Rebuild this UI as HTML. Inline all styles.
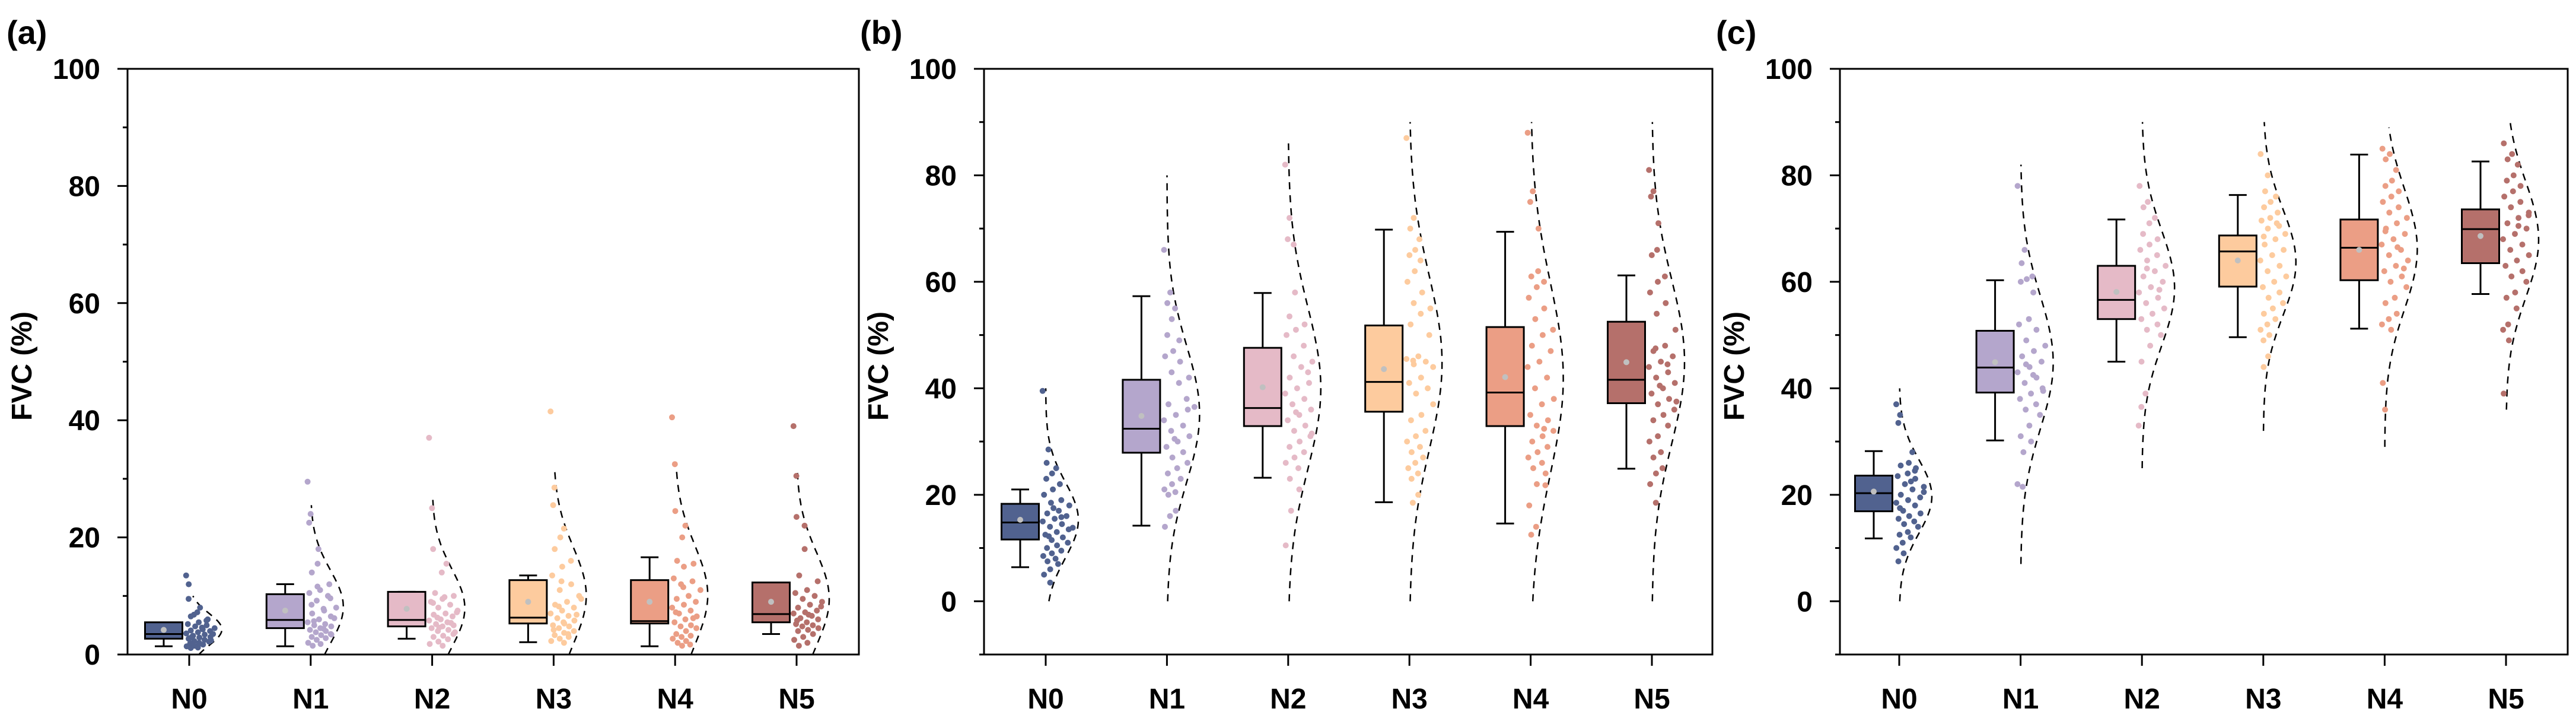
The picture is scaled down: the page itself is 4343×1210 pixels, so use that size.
<!DOCTYPE html>
<html><head><meta charset="utf-8"><style>
html,body{margin:0;padding:0;background:#fff}
svg{display:block}
text{font-family:"Liberation Sans",Arial,sans-serif;font-weight:bold;fill:#000}
</style></head><body>
<svg id="chart" width="4343" height="1210" viewBox="0 0 4343 1210" xmlns="http://www.w3.org/2000/svg"></svg>
<script>
const categories=["N0","N1","N2","N3","N4","N5"];
const colors=["#51628f","#b4a6cc","#e5bac7","#fdcb9e","#eb9e85","#b5706b"];
const yTicksA=[0,20,40,60,80,100];
const yTicksBC=[0,20,40,60,80,100];
// panel a box stats
const aLo=[1.4,1.4,2.7,2.1,1.4,3.5];
const aQ1=[2.7,4.5,4.8,5.3,5.3,5.5];
const aMed=[3.5,5.9,5.9,6.3,5.7,6.9];
const aQ3=[5.5,10.3,10.7,12.7,12.7,12.3];
const aHi=[4.8,12,10.7,13.5,16.6,11.9];
const aMean=[4.2,7.5,7.8,9,9,9];
const aVmin=[0,0,0,0,0,0];
const aVmax=[10,25.5,27,32,32,31];
const aPts=[
[13.5,12,9.5,8,7.2,6.5,6,5.5,5.2,5,4.8,4.5,4.3,4.1,4,3.8,3.6,3.4,3.2,3,2.9,2.7,2.5,2.3,2.2,2,1.9,1.7,1.5,1.4,1.2,1.1,3.5,4.6,2.8,5.8,6.8,2.4,1.8,3.1],
[29.5,24,22.5,18,15.5,14,12,11,10.5,10,9.2,8,7.5,7,6.5,6,5.5,5.2,5,4.8,4.5,4.2,4,3.8,3.5,3.3,3,2.8,2.5,2,1.8,1.5,6.2,7.8,8.5,9.6,11.6,3.4,4.4,5.7],
[37,25,18,15.5,14,10.5,10,9.5,9,8.5,8,7.5,7,6.8,6.5,6,5.8,5.5,5.2,5,4.8,4.5,4.2,4,3.5,3.2,3,2.6,2.2,1.8,1.5,6.3,7.2,9.8,8.8,5.4,4.6,3.8],
[41.5,28.5,25.5,21.5,20,18,16,15,13.5,12,11,10,9,8.5,8,7.5,7,6.6,6.2,5.8,5.5,5,4.8,4.5,4,3.7,3.3,3,2.7,2.3,2,8.2,6.8,5.3,4.2,3.5,12.5,9.5],
[40.5,32.5,24.5,22,20,16,15.5,15,13,12.5,12,11,10,9.5,9,8.5,8,7.5,7,6.5,6,5.5,5,4.8,4.5,4,3.5,3.2,3,2.7,2.3,2,1.7,1.5,7.2,6.2,11.5],
[39,30.5,23.5,22,18,13.5,12.5,11,10.5,10,9.5,9,8.5,8,7.5,7.2,7,6.6,6.2,6,5.5,5.2,5,4.8,4.5,4.2,4,3.5,3,2.5,2,1.5,8.2,6.8,5.8]];
// panel b
const bLo=[6.4,14.2,23.2,18.6,14.6,24.9];
const bQ1=[11.6,27.9,32.9,35.6,32.9,37.2];
const bMed=[14.8,32.4,36.3,41.2,39.2,41.6];
const bQ3=[18.3,41.6,47.6,51.8,51.5,52.5];
const bHi=[21,57.3,57.9,69.8,69.4,61.2];
const bMean=[15.3,34.8,40.2,43.6,42.1,44.9];
const bVmin=[0,0,0,0,0,0];
const bVmax=[40,80,86,90,90,90];
const bPts=[
[39.5,28.5,26,25,24,23,22,21,20,19,18.5,18,17,16.5,16,15.5,15,14.5,14,13.5,13,12.5,12,11.5,11,10.5,10,9.5,9,8.5,8,7.5,7,6,5,3.5,17.5,13.8,15.8,12.2],
[66,58,56,55,53,50,49,47,46,45,43,42,41,37,36,35,34,33,32,31,30,29,28,27,26,25,24,23,22,21,20.5,20,17,16,14,38,30.5,36.5],
[82,72,68,67,58,53.5,52,51,50,48,46,45,44,42,41,40,39,38,37,36,35,34,33,32,31,30,29,28,27,26,25,23,21,17,10.5,43,35.5,31.5],
[87,72,70,68,66,65,64,62,60,58,56,55,54,52,50,46,45.5,45,44.5,44,42,41,40,39,37,35,34,32,31,30,29,28,27,26,25,24,23,20,18.5,45.2],
[88,77,75,70,62,61,60,59,57,55,53,51,50,48,47,45,44,42,40,38,37,35,34,33,32,31,30,29,28,27,26,25,24,22,18,14,12.5,21.8,32.4],
[81,77,76,71,66,65,61,60,58,56,54,51,48,47,46,45,44,43,42,41,40,39,38,37,36,35,34,33,31,30,28,27,25,24,22,18.5,40.5,37.5,44.5,47.5]];
// panel c
const cLo=[11.8,30.2,45,49.6,51.2,57.7];
const cQ1=[16.9,39.2,53,59.1,60.3,63.5];
const cMed=[20.3,43.9,56.6,65.7,66.4,69.9];
const cQ3=[23.6,50.8,63,68.7,71.7,73.6];
const cHi=[28.2,60.3,71.7,76.3,83.9,82.6];
const cMean=[20.6,44.9,58.1,64,66,68.6];
const cVmin=[0,7,25,32,29,36];
const cVmax=[40,82,90,90,89,90];
const cPts=[
[37,35,33.5,28,26,25.5,25,24,23.5,23,22,21.5,21,20,19.5,19,18.5,18,17,16.5,16,15.5,15,14.5,14,13,12.5,12,11,10,9,7.5,20.5,22.5,17.5,24.5],
[78,66,63.5,61,60.5,60,58,53,52,51,49,48,47,46,45,44,43,42,41,40,39,38,37,36,35,33,31,30,28,22,21.5,44.5,39.5,42.5],
[78,75,74,72,71,69,68,67,66,65,64,63,62,61,60,59,58,57,56,55,54,53,52,51,50,48,45,39,36.5,33,58.5,62.5],
[84,80,77,76,75,74,73,72,71.5,71,70,69,68,67,66,65,64,63,62,61,60,59,58,57,56,55,54,53,52,51,50,49,46,44,68.5,70.5],
[85,84,83,81,79,78,77,76,75,74,73,72,71,70,69,68,67,66,65,64,63,62,61,60,59,57,56,54,53,52,51,41,36,66.5,69.5,62.5],
[86,84,83,82,80,79,78,77,76,75,74,73,72,71,70,69,68,67,66,65,64,63,62,61,60,58,57,55,52,51,49,39,72.5,70.5]];

const NS="http://www.w3.org/2000/svg";
const svg=document.getElementById('chart');
function mk(tag,attrs,parent){const e=document.createElementNS(NS,tag);for(const k in attrs)e.setAttribute(k,attrs[k]);(parent||svg).appendChild(e);return e;}

const panels=[
 {id:'a',label:'(a)',lx:11,fx0:215,fx1:1448,t0:319,step:204.8,ymin:0,ymax:100,ticks:yTicksA,lo:aLo,q1:aQ1,med:aMed,q3:aQ3,hi:aHi,mean:aMean,vmin:aVmin,vmax:aVmax,pts:aPts},
 {id:'b',label:'(b)',lx:1450,fx0:1659,fx1:2887,t0:1763,step:204.4,ymin:-10,ymax:100,ticks:yTicksBC,lo:bLo,q1:bQ1,med:bMed,q3:bQ3,hi:bHi,mean:bMean,vmin:bVmin,vmax:bVmax,pts:bPts},
 {id:'c',label:'(c)',lx:2893,fx0:3102,fx1:4329,t0:3202,step:204.6,ymin:-10,ymax:100,ticks:yTicksBC,lo:cLo,q1:cQ1,med:cMed,q3:cQ3,hi:cHi,mean:cMean,vmin:cVmin,vmax:cVmax,pts:cPts}
];
const FY0=116,FY1=1103;

panels.forEach(p=>{
 const g=mk('g',{});
 
 
 const y=v=>FY1-(v-p.ymin)/(p.ymax-p.ymin)*(FY1-FY0);
 const xc=i=>p.t0+i*p.step;
 const lab=mk('text',{x:p.lx,y:74,'font-size':56},g);lab.textContent=p.label;
 
 
 const yt=mk('text',{x:0,y:0,'font-size':48,'text-anchor':'middle',transform:`translate(${p.fx0-162},617) rotate(-90)`},g);
 yt.textContent='FVC (%)';
 
 
 for(let v=Math.ceil(p.ymin/10)*10;v<=p.ymax;v+=10){
  const major=p.ticks.indexOf(v)>=0;
  const t=mk('line',{x1:p.fx0-(major?17:8),x2:p.fx0,y1:y(v),y2:y(v),stroke:'#000','stroke-width':3},g);
  
  
 }
 p.ticks.forEach(v=>{
  const t=mk('text',{x:p.fx0-46,y:y(v)+17,'font-size':48,'text-anchor':'end'},g);t.textContent=v;
  
  
 });
 categories.forEach((c,i)=>{
  const col=colors[i];
  const x=xc(i);
  const tk=mk('line',{x1:x,x2:x,y1:FY1,y2:FY1+19,stroke:'#000','stroke-width':3},g);
  
  
  const tl=mk('text',{x:x,y:1194,'font-size':48,'text-anchor':'middle'},g);tl.textContent=c;
  
  
  const pts=p.pts[i];
  const m=pts.reduce((a,b)=>a+b,0)/pts.length;
  const sd=Math.sqrt(pts.reduce((a,b)=>a+(b-m)*(b-m),0)/pts.length);
  const dens=v=>Math.exp(-(v-m)*(v-m)/(2*sd*sd));
  const W=55;
  let d='';
  const N=80;
  for(let k=0;k<=N;k++){
   const v=p.vmin[i]+(p.vmax[i]-p.vmin[i])*k/N;
   d+=(k?'L':'M')+(x+W*dens(v)).toFixed(1)+','+y(v).toFixed(1);
  }
  const vio=mk('path',{d:d,fill:'none',stroke:'#000','stroke-width':2.5,'stroke-dasharray':'12 10'},g);
  
  
  pts.forEach((v,j)=>{
   const u=(j*0.6180339+0.13)%1;
   const w=W*dens(v)*0.85+6;
   const pt=mk('circle',{cx:(x-6+u*w).toFixed(1),cy:y(v).toFixed(1),r:5,fill:col},g);
   
   
  });
  const bc=x-43,bw=63;
  const wl=mk('line',{x1:bc,x2:bc,y1:y(p.lo[i]),y2:y(p.q1[i]),stroke:'#000','stroke-width':3},g);
  
  
  const wh=mk('line',{x1:bc,x2:bc,y1:y(p.hi[i]),y2:y(p.q3[i]),stroke:'#000','stroke-width':3},g);
  
  
  [p.lo[i],p.hi[i]].forEach(v=>{
   const cap=mk('line',{x1:bc-15,x2:bc+15,y1:y(v),y2:y(v),stroke:'#000','stroke-width':3},g);
   
   
  });
  const bx=mk('rect',{x:bc-bw/2,y:y(p.q3[i]),width:bw,height:y(p.q1[i])-y(p.q3[i]),fill:col,stroke:'#000','stroke-width':3},g);
  
  
  const md=mk('line',{x1:bc-bw/2,x2:bc+bw/2,y1:y(p.med[i]),y2:y(p.med[i]),stroke:'#000','stroke-width':3},g);
  
  
  const mn=mk('circle',{cx:bc,cy:y(p.mean[i]),r:5,fill:'#c0c0c0'},g);
  
  
 });
 const fr=mk('rect',{x:p.fx0,y:FY0,width:p.fx1-p.fx0,height:FY1-FY0,fill:'none',stroke:'#000','stroke-width':3},g);
 
 
});
</script>
</body></html>
